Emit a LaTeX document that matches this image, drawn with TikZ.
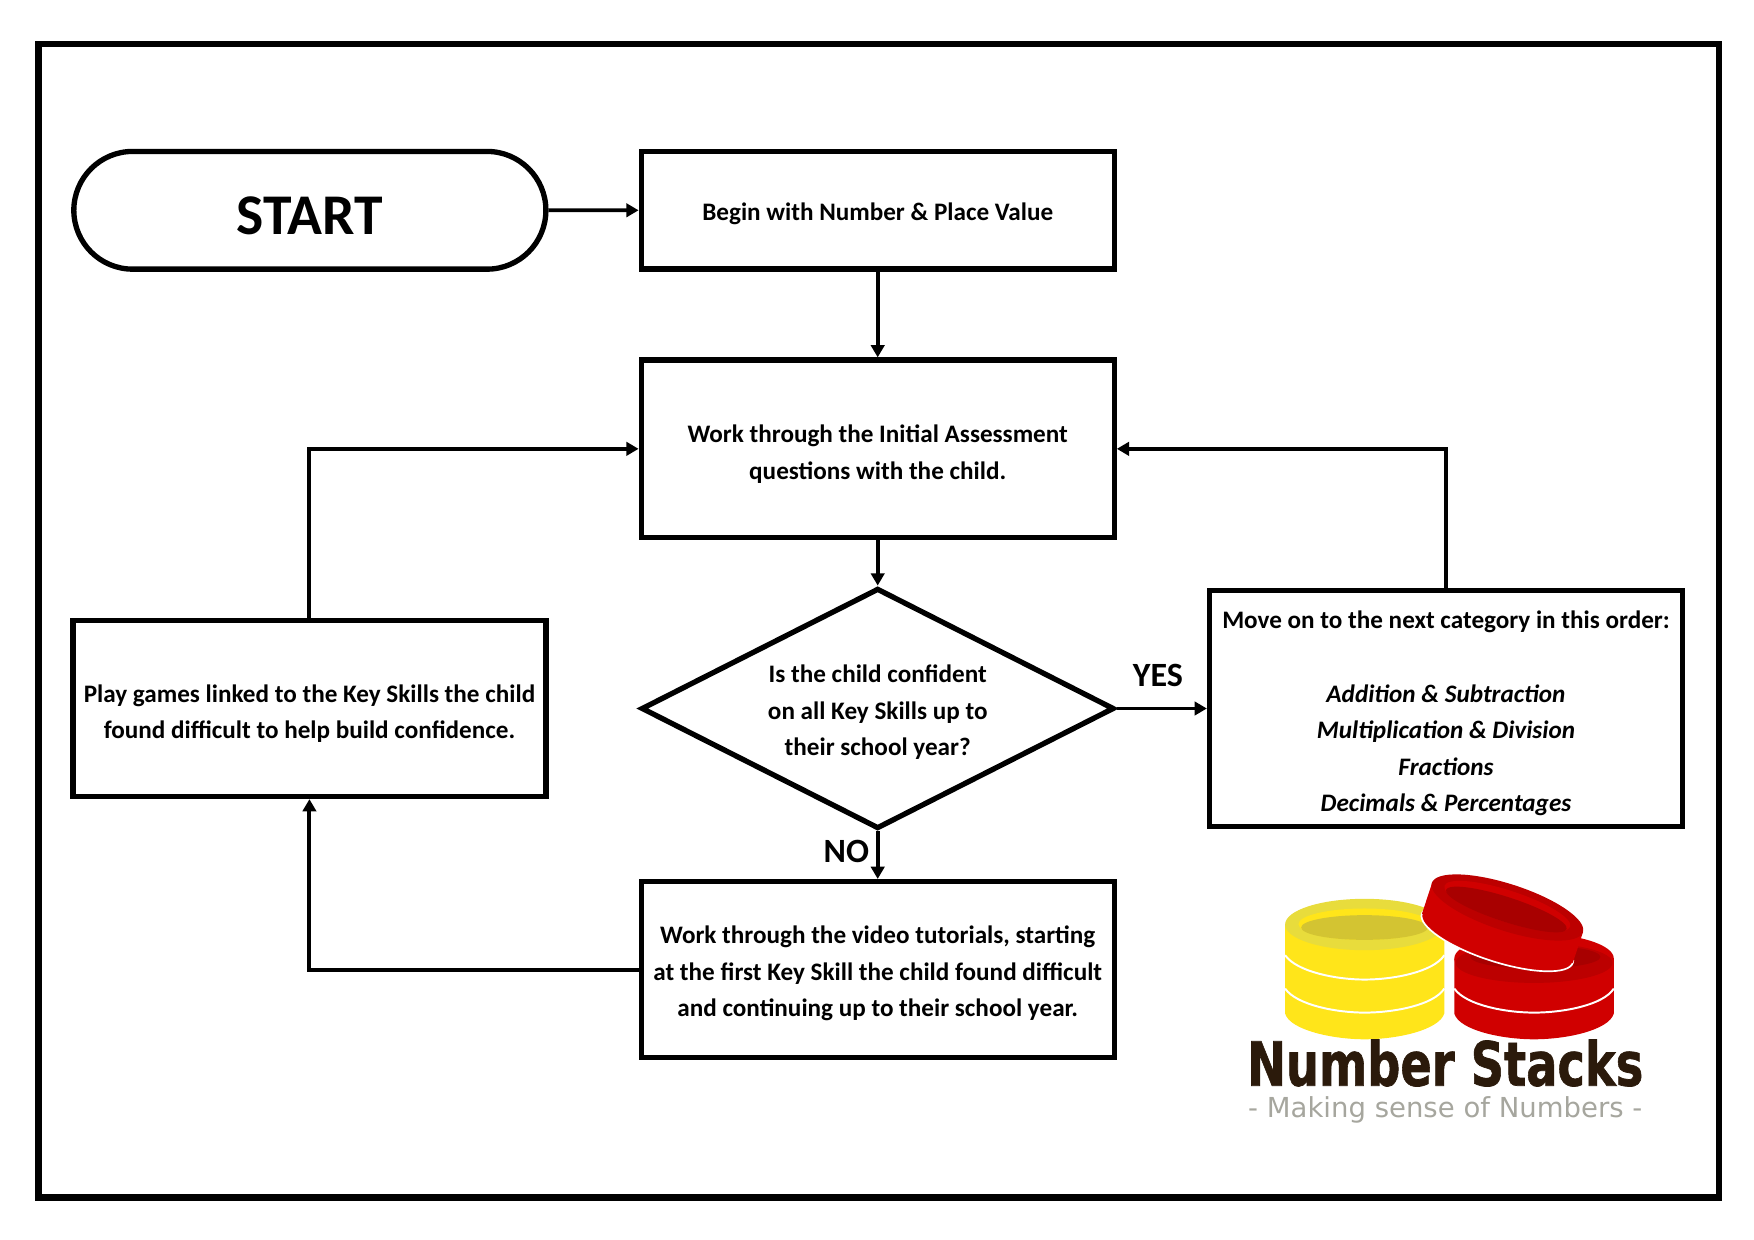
\documentclass[tikz,border=0pt]{standalone}
\usepackage{fontspec}
\setmainfont{Carlito}
\newfontfamily\logofont{DejaVu Sans}
\newfontfamily\logoheavy{DejaVu Sans Bold}[FakeBold=1.2]
\usetikzlibrary{positioning, arrows.meta, shapes.geometric, shapes.misc}

\definecolor{coinyellow}{HTML}{FFE51A}
\definecolor{coinrim}{HTML}{E8DC3C}
\definecolor{coinwell}{HTML}{D3C432}
\definecolor{coinred}{HTML}{D00000}
\definecolor{coinrim2}{HTML}{BC0000}
\definecolor{coinwell2}{HTML}{A80000}
\definecolor{logobrown}{HTML}{2B1A0B}
\definecolor{logogrey}{HTML}{A6A69E}

\newcommand{\lifttext}[1]{\rule{0pt}{#1}}

\tikzset{
	every node/.style={font=\fontsize{12.8}{18.6}\selectfont\bfseries, align=center, inner sep=0pt},
	box/.style={draw, rectangle, line width=0.095cm, minimum width=8.455cm, minimum height=#1},
	decide/.style={draw, diamond, aspect=2, line width=0.095cm, minimum width=8.455cm, minimum height=4.3cm},
	terminal/.style={draw, rounded rectangle, line width=0.095cm, minimum width=8.44cm, minimum height=2.105cm},
	answer/.style={font=\fontsize{17.3}{20}\selectfont\bfseries},
	conn/.style={line width=0.07cm, >={Triangle[length=0.22cm, width=0.24cm]}},
	ring/.style={white, line width=0.035cm},
}

\begin{document}
\begin{tikzpicture}
	\useasboundingbox (0,0) rectangle (31.36,22.17);
	\node[draw, rectangle, line width=0.12cm, minimum width=30.05cm, minimum height=20.63cm] (frame) at (15.71,11.07) {};

	\node[terminal, font=\fontsize{29.3}{32}\selectfont\bfseries] (start) at (5.54,18.41) {\lifttext{24.5pt}START};
	\node[box=2.105cm, right=1.61cm of start] (begin) {\lifttext{12.5pt}Begin with Number \& Place Value};
	\node[box=3.175cm, below=1.53cm of begin] (assess) {\lifttext{14.2pt}Work through the Initial Assessment\\questions with the child.};
	\node[decide, below=0.81cm of assess] (child) {\lifttext{13pt}Is the child confident\\on all Key Skills up to\\their school year?};
	\node[box=4.225cm, right=1.61cm of child] (next) {\lifttext{14.2pt}Move on to the next category in this order:\\[18.6pt]
		\itshape Addition \& Subtraction\\\itshape Multiplication \& Division\\\itshape Fractions\\\itshape Decimals \& Percentages};
	\node[box=3.145cm, left=1.61cm of child] (games) {\lifttext{14.2pt}Play games linked to the Key Skills the child\\found difficult to help build confidence.};
	\node[box=3.145cm, below=0.85cm of child] (video) {\lifttext{13pt}Work through the video tutorials, starting\\at the first Key Skill the child found difficult\\and continuing up to their school year.};

	\draw [->, conn]
		(start) edge[] node{} (begin)
		(begin) edge[] node{} (assess)
		(assess) edge[] node{} (child)
		(child) edge[] node[above=0.35cm, answer, xshift=-0.07cm]{YES} (next)
		(child) edge[] node[left=0.12cm, answer, yshift=0.06cm]{NO} (video)
		;
	\draw [->, conn] (games) |- (assess);
	\draw [->, conn] (next) |- (assess);
	\draw [->, conn] (video) -| (games);

	% logo
	\begin{scope}[shift={(21.455,7.15)}, x=0.00596cm, y=-0.00596cm]
		% yellow stack
		\fill[coinyellow] (255,255) -- (255,520) .. controls (270,570) and (400,597) .. (493,597) .. controls (590,597) and (715,570) .. (732,520) -- (732,255) -- cycle;
		\fill[coinrim] (493,253) ellipse [x radius=238, y radius=77];
		\fill[coinyellow] (493,252) ellipse [x radius=198, y radius=47];
		\fill[coinwell] (493,262) ellipse [x radius=190, y radius=37];
		\draw[ring] (255,345) .. controls (290,395) and (410,418) .. (493,418) .. controls (580,418) and (700,395) .. (732,345);
		\draw[ring] (255,445) .. controls (290,495) and (410,517) .. (493,517) .. controls (580,517) and (700,495) .. (732,445);
		% lower red coin
		\fill[coinred] (762,355) -- (762,520) .. controls (777,570) and (905,597) .. (1001,597) .. controls (1098,597) and (1225,570) .. (1240,520) -- (1240,355) -- cycle;
		\fill[coinred] (1001,355) ellipse [x radius=239, y radius=75];
		\fill[coinrim2] (1001,368) ellipse [x radius=235, y radius=60];
		\fill[coinwell2] (1005,350) ellipse [x radius=195, y radius=35];
		\draw[ring] (762,445) .. controls (797,495) and (917,517) .. (1001,517) .. controls (1088,517) and (1208,495) .. (1240,445);
		% upper red coin
		\fill[coinred, draw=white, line width=0.03cm] (891,294) ellipse [x radius=238, y radius=70, rotate=-18];
		\fill[coinred] (695,130) -- (665,221) -- (1117,368) -- (1148,275) -- cycle;
		\fill[coinrim2] (921,202) ellipse [x radius=238, y radius=70, rotate=-18];
		\fill[coinred] (921,198) ellipse [x radius=198, y radius=47, rotate=-18];
		\fill[coinwell2] (918,208) ellipse [x radius=190, y radius=37, rotate=-18];
		% name
		\node[font=\logoheavy\fontsize{31}{31}\selectfont, text=logobrown, xscale=0.76, transform shape] (name) at (735,668) {Number Stacks};
		\node[font=\logofont\fontsize{14}{14}\selectfont\mdseries, text=logogrey, transform shape] (tagline) at (735,808) {- Making sense of Numbers -};
	\end{scope}
\end{tikzpicture}
\end{document}
